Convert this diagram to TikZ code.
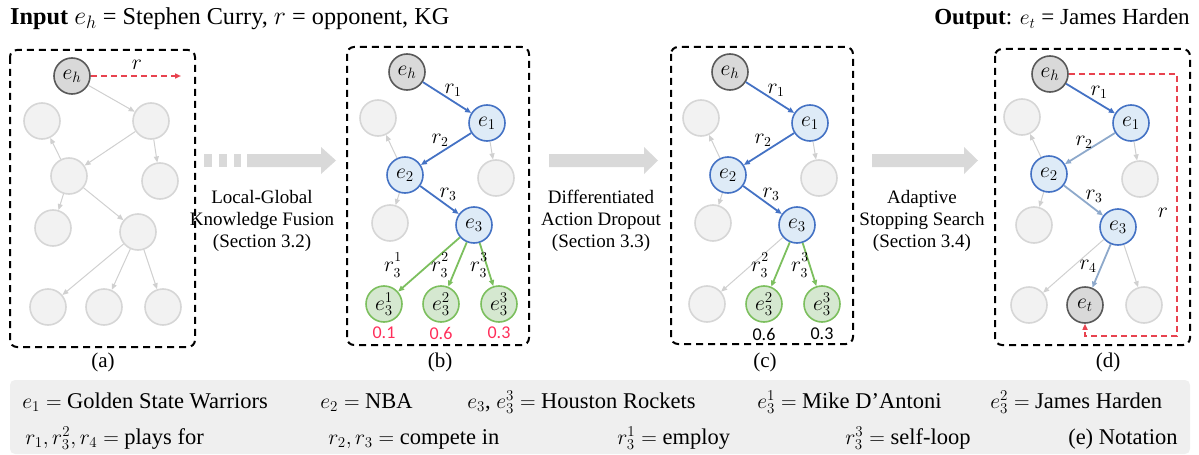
\documentclass[tikz,border=0pt]{standalone}
\usepackage{fontspec}
\setmainfont{Liberation Serif}
\newfontfamily\calfont{Carlito}
\usetikzlibrary{arrows.meta}
\definecolor{lnfill}{HTML}{F2F2F2}
\definecolor{lnline}{HTML}{D6D6D6}
\definecolor{ledgec}{HTML}{D0D0D0}
\definecolor{hfill}{HTML}{D9D9D9}
\definecolor{hline}{HTML}{595959}
\definecolor{bfill}{HTML}{DEEBF7}
\definecolor{bline}{HTML}{4472C4}
\definecolor{sline}{HTML}{8EA9CB}
\definecolor{gfill}{HTML}{D5E8D0}
\definecolor{gline}{HTML}{7CBF5E}
\definecolor{redl}{HTML}{E8434F}
\definecolor{redn}{HTML}{FF2E5A}
\definecolor{bigarrow}{HTML}{D9D9D9}
\definecolor{notebg}{HTML}{EFEFEF}
% 1 px = 0.8 pt
\newcommand\figA{\fontsize{15.2}{17.6}\selectfont}
\newcommand\figT{\fontsize{18.4}{21}\selectfont}
\newcommand\figTi{\fontsize{19.4}{22}\selectfont}
\newcommand\figP{\fontsize{16.8}{20}\selectfont}
\newcommand\figN{\fontsize{18}{21}\selectfont}
\newcommand\rlab[2]{r_{#1}^{\raisebox{2pt}{$\scriptstyle #2$}}}
\tikzset{
  panelbox/.style={draw=black, line width=1.6pt, dash pattern=on 5.6pt off 4pt, rounded corners=5.6pt},
  ent/.style={circle, minimum size=28.8pt, inner sep=0pt, line width=1.28pt, font=\fontsize{17.6}{20}\selectfont},
  lnode/.style={ent, draw=lnline, fill=lnfill},
  hnode/.style={ent, draw=hline, fill=hfill},
  bnode/.style={ent, draw=bline, fill=bfill},
  gnode/.style={ent, draw=gline, fill=gfill},
  tip/.style={-{Triangle[length=4.8pt,width=4pt]}},
  ledge/.style={tip, draw=ledgec, line width=0.8pt},
  bedge/.style={tip, draw=bline, line width=1.44pt},
  sedge/.style={tip, draw=sline, line width=1.44pt},
  gedge/.style={tip, draw=gline, line width=1.44pt},
  redge/.style={tip, draw=redl, line width=1.44pt, dash pattern=on 4.8pt off 3.2pt},
  elab/.style={font=\fontsize{16}{18}\selectfont, inner sep=0pt},
  prob/.style={font=\calfont\fontsize{14.4}{16}\selectfont, inner sep=0pt},
  steplab/.style={font=\figA, align=center, inner sep=0pt},
  plab/.style={font=\figP, inner sep=0pt},
  note/.style={font=\figN, anchor=base west, inner sep=0pt},
  garrow/.style={fill=bigarrow, draw=none}
}
\begin{document}
\begin{tikzpicture}[x=0.8pt,y=-0.8pt]
\useasboundingbox (0,0) rectangle (1199,455);
% titles
\node[font=\figTi, anchor=base west, inner sep=0pt] (tin) at (10,25) {\textbf{Input} $e_h$ = Stephen Curry, $r$ = opponent, KG};
\node[font=\figT, anchor=base east, inner sep=0pt] (tout) at (1190,25) {\textbf{Output}: $e_t$ = James Harden};

% ---------- panel (a)
\draw[panelbox] (10,50) rectangle (195,347);
\node[hnode] (aeh) at (72,76) {$e_h$};
\node[lnode] (a1) at (42,121) {};
\node[lnode] (a2) at (151,121) {};
\node[lnode] (a3) at (69,176) {};
\node[lnode] (a4) at (160,181) {};
\node[lnode] (a5) at (53,228) {};
\node[lnode] (a6) at (138,232) {};
\node[lnode] (a7) at (48,307) {};
\node[lnode] (a8) at (104,307) {};
\node[lnode] (a9) at (163,307) {};
\coordinate (aend) at (181,76);
\draw[redge] (aeh) -- (aend);
\node[elab] (ar) at (137,65) {$r$};
\draw[ledge] (aeh) -- (a2);
\draw[ledge] (a2) -- (a3);
\draw[ledge] (a2) -- (a4);
\draw[ledge] (a3) -- (a1);
\draw[ledge] (a3) -- (a5);
\draw[ledge] (a3) -- (a6);
\draw[ledge] (a6) -- (a7);
\draw[ledge] (a6) -- (a8);
\draw[ledge] (a6) -- (a9);
\node[plab] (alab) at (103,362) {(a)};

% ---------- arrow 1
\fill[garrow] (204,154) rectangle (212,167);
\fill[garrow] (219,154) rectangle (227,167);
\fill[garrow] (234,154) rectangle (241,167);
\fill[garrow] (247,154) -- (321,154) -- (321,147) -- (336,160.5) -- (321,174) -- (321,167) -- (247,167) -- cycle;
\node[steplab] (s1) at (262,221) {Local-Global\\Knowledge Fusion\\(Section 3.2)};

% ---------- panel (b)
\draw[panelbox] (347,47) rectangle (529,345);
\node[hnode] (beh) at (407,72) {$e_h$};
\node[bnode] (be1) at (487,123) {$e_1$};
\node[lnode] (bl1) at (378,118) {};
\node[bnode] (be2) at (405,175) {$e_2$};
\node[lnode] (bl2) at (496,178) {};
\node[bnode] (be3) at (474,225) {$e_3$};
\node[lnode] (bl3) at (390,223) {};
\node[gnode] (bg1) at (384,304) {$e_3^1$};
\node[gnode] (bg2) at (441,304) {$e_3^2$};
\node[gnode] (bg3) at (499,304) {$e_3^3$};
\draw[ledge] (be2) -- (bl1);
\draw[ledge] (be1) -- (bl2);
\draw[ledge] (be2) -- (bl3);
\draw[bedge] (beh) -- (be1);
\draw[bedge] (be1) -- (be2);
\draw[bedge] (be2) -- (be3);
\draw[gedge] (be3) -- (bg1);
\draw[gedge] (be3) -- (bg2);
\draw[gedge] (be3) -- (bg3);
\node[elab] (br1) at (453,90) {$r_1$};
\node[elab] (br2) at (440,140) {$r_2$};
\node[elab] (br3) at (448,194) {$r_3$};
\node[elab] (bq1) at (393,265) {$\rlab{3}{1}$};
\node[elab] (bq2) at (440,265) {$\rlab{3}{2}$};
\node[elab] (bq3) at (479,265) {$\rlab{3}{3}$};
\node[prob, text=redn] (bp1) at (384,333) {0.1};
\node[prob, text=redn] (bp2) at (441,333) {0.6};
\node[prob, text=redn] (bp3) at (499,333) {0.3};
\node[plab] (blab) at (440,362) {(b)};

% ---------- arrow 2
\fill[garrow] (549,154) -- (644,154) -- (644,147) -- (658,160.5) -- (644,174) -- (644,167) -- (549,167) -- cycle;
\node[steplab] (s2) at (601,221) {Differentiated\\Action Dropout\\(Section 3.3)};

% ---------- panel (c)
\draw[panelbox] (671,47) rectangle (853,344);
\node[hnode] (ceh) at (730,72) {$e_h$};
\node[bnode] (ce1) at (810,123) {$e_1$};
\node[lnode] (cl1) at (701,118) {};
\node[bnode] (ce2) at (728,175) {$e_2$};
\node[lnode] (cl2) at (819,178) {};
\node[bnode] (ce3) at (797,225) {$e_3$};
\node[lnode] (cl3) at (713,223) {};
\node[lnode] (cl4) at (707,304) {};
\node[gnode] (cg2) at (764,304) {$e_3^2$};
\node[gnode] (cg3) at (822,304) {$e_3^3$};
\draw[ledge] (ce2) -- (cl1);
\draw[ledge] (ce1) -- (cl2);
\draw[ledge] (ce2) -- (cl3);
\draw[ledge] (ce3) -- (cl4);
\draw[bedge] (ceh) -- (ce1);
\draw[bedge] (ce1) -- (ce2);
\draw[bedge] (ce2) -- (ce3);
\draw[gedge] (ce3) -- (cg2);
\draw[gedge] (ce3) -- (cg3);
\node[elab] (cr1) at (776,90) {$r_1$};
\node[elab] (cr2) at (763,140) {$r_2$};
\node[elab] (cr3) at (771,194) {$r_3$};
\node[elab] (cq2) at (760,265) {$\rlab{3}{2}$};
\node[elab] (cq3) at (800,265) {$\rlab{3}{3}$};
\node[prob] (cp2) at (764,334) {0.6};
\node[prob] (cp3) at (822,334) {0.3};
\node[plab] (clab) at (765,362) {(c)};

% ---------- arrow 3
\fill[garrow] (872,154) -- (964,154) -- (964,147) -- (978,160.5) -- (964,174) -- (964,167) -- (872,167) -- cycle;
\node[steplab] (s3) at (922,221) {Adaptive\\Stopping Search\\(Section 3.4)};

% ---------- panel (d)
\draw[panelbox] (995,49) rectangle (1190,345);
\node[hnode] (deh) at (1050,74) {$e_h$};
\node[bnode] (de1) at (1131,123) {$e_1$};
\node[lnode] (dl1) at (1022,117) {};
\node[bnode] (de2) at (1049,174) {$e_2$};
\node[lnode] (dl2) at (1140,179) {};
\node[bnode] (de3) at (1118,227) {$e_3$};
\node[lnode] (dl3) at (1034,225) {};
\node[lnode] (dl4) at (1029,305) {};
\node[hnode] (det) at (1085,305) {$e_t$};
\node[lnode] (dl5) at (1144,305) {};
\draw[ledge] (de2) -- (dl1);
\draw[ledge] (de1) -- (dl2);
\draw[ledge] (de2) -- (dl3);
\draw[ledge] (de3) -- (dl4);
\draw[ledge] (de3) -- (dl5);
\draw[bedge] (deh) -- (de1);
\draw[sedge] (de1) -- (de2);
\draw[sedge] (de2) -- (de3);
\draw[sedge] (de3) -- (det);
\coordinate (dc1) at (1177,74);
\coordinate (dc2) at (1177,336);
\coordinate (dc3) at (1085,336);
\draw[redge] (deh.east) -- (dc1) -- (dc2) -- (dc3) -- (det.south);
\node[elab] (dr1) at (1099,92) {$r_1$};
\node[elab] (dr2) at (1084,142) {$r_2$};
\node[elab] (dr3) at (1094,196) {$r_3$};
\node[elab] (dr4) at (1088,266) {$r_4$};
\node[elab] (drr) at (1163,213) {$r$};
\node[plab] (dlab) at (1108,362) {(d)};

% ---------- notation
\fill[notebg, rounded corners=4pt] (10,380) rectangle (1190,454);
\node[note] (n1) at (22,408) {$e_1 =$ Golden State Warriors};
\node[note] (n2) at (320,408) {$e_2 =$ NBA};
\node[note] (n3) at (467,408) {$e_3$, $e_3^3 =$ Houston Rockets};
\node[note] (n4) at (757,408) {$e_3^1 =$ Mike D'Antoni};
\node[note] (n5) at (990,408) {$e_3^2 =$ James Harden};
\node[note] (m1) at (25,444) {$r_1, r_3^2, r_4 =$ plays for};
\node[note] (m2) at (328,444) {$r_2, r_3 =$ compete in};
\node[note] (m3) at (617,444) {$r_3^1 =$ employ};
\node[note] (m4) at (845,444) {$r_3^3 =$ self-loop};
\node[note] (m5) at (1068,444) {(e) Notation};
\end{tikzpicture}
\end{document}
